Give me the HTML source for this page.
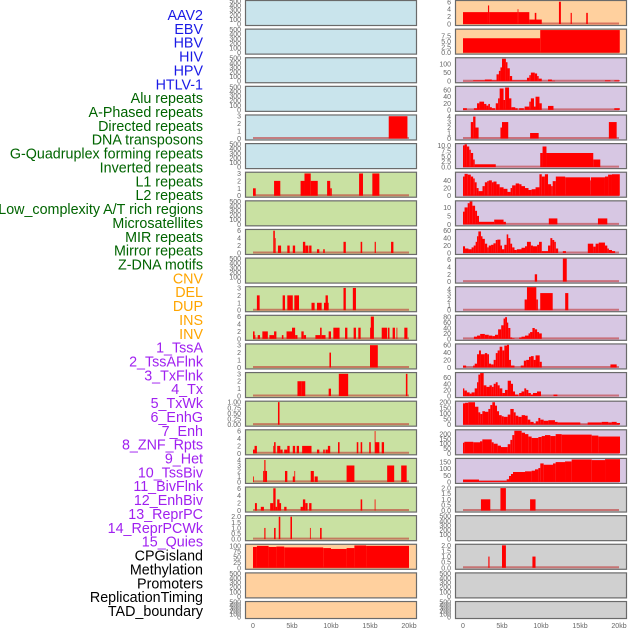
<!DOCTYPE html>
<html><head><meta charset="utf-8">
<style>
html,body{margin:0;padding:0;background:#fff;width:630px;height:630px;overflow:hidden}
svg{display:block}
.lbl{font-family:"Liberation Sans",sans-serif;font-size:14.3px}
.tk{font-family:"Liberation Sans",sans-serif;font-size:7px;fill:#666}
</style></head>
<body>
<svg id="chart" width="630" height="630" xmlns="http://www.w3.org/2000/svg"></svg>
<script>
const trackNames=["AAV2","EBV","HBV","HIV","HPV","HTLV-1","Alu repeats","A-Phased repeats","Directed repeats","DNA transposons","G-Quadruplex forming repeats","Inverted repeats","L1 repeats","L2 repeats","Low_complexity A/T rich regions","Microsatellites","MIR repeats","Mirror repeats","Z-DNA motifs","CNV","DEL","DUP","INS","INV","1_TssA","2_TssAFlnk","3_TxFlnk","4_Tx","5_TxWk","6_EnhG","7_Enh","8_ZNF_Rpts","9_Het","10_TssBiv","11_BivFlnk","12_EnhBiv","13_ReprPC","14_ReprPCWk","15_Quies","CPGisland","Methylation","Promoters","ReplicationTiming","TAD_boundary"];
const labelColors=["#1a1ae6","#1a1ae6","#1a1ae6","#1a1ae6","#1a1ae6","#1a1ae6","#006400","#006400","#006400","#006400","#006400","#006400","#006400","#006400","#006400","#006400","#006400","#006400","#006400","#ffa500","#ffa500","#ffa500","#ffa500","#ffa500","#a020f0","#a020f0","#a020f0","#a020f0","#a020f0","#a020f0","#a020f0","#a020f0","#a020f0","#a020f0","#a020f0","#a020f0","#a020f0","#a020f0","#a020f0","#000","#000","#000","#000","#000"];
const E=[0,100,200,300,400,500];
const trackMax=[500,500,500,500,3.1,500,3.1,500,6.2,500,3.1,6.2,3.1,3.1,1.02,6.2,4.2,6.2,2.05,105,500,500,6.2,10.4,133,70,4.2,10.6,60,13.6,62,6.3,4.3,85,61,75,205,240,174,2.05,500,2.05,500,500];
const trackTicks=[E,E,E,E,[0,1,2,3],E,[0,1,2,3],E,[0,2,4,6],E,[0,1,2,3],[0,2,4,6],[0,1,2,3],[0,1,2,3],[0,0.25,0.5,0.75,1],[0,2,4,6],[0,1,2,3,4],[0,2,4,6],[0,0.5,1,1.5,2],[0,25,50,75,100],E,E,
[0,2,4,6],[0,2.5,5,7.5],[0,50,100],[0,20,40,60],[0,1,2,3,4],[0,2.5,5,7.5,10],[0,20,40],[0,5,10],[0,20,40,60],[0,2,4,6],[0,1,2,3,4],[0,20,40,60,80],[0,20,40,60],[0,20,40,60],[0,50,100,150,200],[0,50,100,150,200],[0,50,100,150],[0,0.5,1,1.5,2],E,[0,0.5,1,1.5,2],E,E];
const tickDecimals=[0,0,0,0,0,0,0,0,0,0,0,0,0,0,2,0,0,0,1,0,0,0,0,1,0,0,0,1,0,0,0,0,0,0,0,0,0,0,0,1,0,1,0,0];
const xTicks=[0,5,10,15,20];
const xTickLabels=["0","5kb","10kb","15kb","20kb"];
const trackSegs=[
[],[],[],[],
[[17.4,19.8,3]],
[],
[[0,0.35,1],[2.7,3.5,2],[6.1,6.6,2],[6.6,7.4,3],[7.4,8.3,2],[9.5,9.9,2],[9.9,10.1,1],[13.6,14.1,3],[15.3,16.2,3]],
[],
[[2.6,2.8,6],[2.8,2.9,4],[3.2,3.6,2],[4.4,4.7,2],[5.1,5.4,2],[6.4,6.7,3],[6.7,7.1,2],[7.2,7.5,2],[8.2,8.5,1],[9.0,9.2,1],[11.6,11.9,3],[13.8,14.0,3],[15.6,15.75,3],[17.7,18.0,3]],
[],
[[0.5,0.85,2],[3.8,4.1,2],[4.4,5.1,2],[5.3,5.9,2],[7.5,7.9,1],[8.2,8.8,1],[9.1,9.7,1],[9.3,9.6,2],[11.6,11.9,3],[12.8,13.2,3]],
[[0,0.2,2],[0.2,0.3,1],[0.6,0.9,1],[1.2,1.9,2],[2.1,2.7,1],[2.7,3.0,2],[3.7,3.9,1],[4.3,5.0,2],[5.0,5.4,3],[5.4,5.7,1],[6.2,6.5,2],[6.5,6.8,1],[8.0,8.6,1],[8.6,8.8,3],[8.8,9.3,1],[9.7,10.0,2],[10.3,11.1,3],[11.8,12.1,3],[12.9,13.2,3],[13.5,13.8,3],[15.0,15.1,3],[15.1,15.5,6],[16.5,17.2,3],[17.3,17.5,3],[17.9,18.2,3],[18.4,18.5,3],[19.4,19.8,3]],
[[9.8,10.0,2],[15.0,16.0,3]],
[[5.7,6.2,2],[6.2,6.7,2],[9.7,10.0,1],[11.0,12.2,3],[19.6,19.8,3]],
[[3.2,3.4,1]],
[[0,0.2,1],[0.2,0.5,2],[2.6,2.7,2],[2.7,2.9,3],[3.1,3.5,2],[3.5,3.8,1],[4.0,4.4,1],[4.4,4.7,2],[5.1,5.4,2],[5.6,5.9,2],[6.3,7.5,2],[8.2,8.5,1],[9.0,9.2,1],[9.3,9.6,1],[9.6,9.9,2],[10.9,11.1,3],[13.3,13.5,3],[13.8,14.0,3],[14.9,15.1,3],[15.6,15.7,6],[15.7,16.2,3],[16.5,16.8,3]],
[[0,0.1,1],[1.3,1.45,2],[1.45,1.6,4],[1.6,1.8,2],[4.1,4.4,2],[5.1,5.3,1],[5.3,5.4,2],[7.4,7.8,2],[7.9,8.3,1],[12.0,13.0,3],[17.2,18.1,3],[19.0,19.7,3]],
[[0.25,0.5,2],[1.0,1.4,1],[2.2,2.6,2],[2.6,2.9,6],[2.9,3.1,1],[3.1,3.4,3],[3.4,3.6,2],[4.0,4.3,1],[6.1,6.4,1],[6.4,6.7,3],[6.7,7.0,2],[7.2,7.5,2],[13.8,14.0,3],[15.6,15.7,3]],
[[1.45,1.6,1],[2.7,2.9,1],[3.3,3.5,2],[4.8,5.0,2],[7.3,7.4,1],[8.6,8.8,1]],
[[0,0.5,95],[0.5,2,100],[2,3,95],[3,4,97],[4,9,93],[9,10,90],[10,12,86],[12,13,90],[13,14.5,102],[14.5,20,100]],
[],[],
[[0,3.2,3.2],[3.2,3.35,5],[3.35,7.0,3.2],[7.0,7.1,4],[7.1,8.5,3.2],[8.5,10.1,1.2],[9.2,9.4,3],[12.3,12.55,6],[13.8,13.95,3],[15.8,16.0,3]],
[[0,9.9,6.5],[9.9,20.1,10.2]],
[[0,1.3,1],[1.3,2.8,5],[2.8,3.7,10],[3.7,4.3,5],[4.3,4.6,40],[4.6,4.8,60],[4.8,5.0,80],[5.0,5.5,130],[5.5,5.7,110],[5.7,6.0,75],[6.0,6.3,30],[6.3,8.2,5],[8.2,8.5,20],[8.5,8.7,35],[8.7,9.2,50],[9.2,9.5,45],[9.5,9.7,30],[9.7,10.1,15],[10.9,11.4,10],[11.4,11.8,3],[18.2,18.9,5],[19.4,20.1,5]],
[[0,0.5,5],[1.4,1.8,5],[1.8,2.1,20],[2.1,2.7,25],[2.7,3.0,18],[3.0,3.25,13],[3.25,3.45,18],[3.45,3.7,8],[3.7,4.1,5],[4.2,4.5,20],[4.5,4.7,35],[4.7,5.2,65],[5.2,5.4,30],[5.4,5.9,68],[5.9,6.2,35],[6.2,6.7,8],[6.7,7.0,5],[7.2,7.8,5],[7.9,8.5,10],[8.5,8.7,25],[8.7,9.1,35],[9.1,9.3,10],[9.3,9.8,40],[9.8,10.1,20],[10.9,11.6,12],[19.4,20.1,5]],
[[1.0,1.3,3],[1.3,1.6,4],[1.6,2.0,2],[4.8,5.0,2],[5.0,5.8,3],[8.6,9.7,1],[18.7,19.7,3]],
[[0,0.2,10],[0.2,0.5,10.5],[0.5,0.8,9.5],[0.8,1.0,8],[1.0,1.3,6.5],[1.3,1.5,3.5],[1.5,4.2,1.3],[9.9,10.2,6.5],[10.2,10.7,9.5],[10.7,16.7,6.5],[16.7,17.6,3.5]],
[[0,0.2,50],[0.2,0.6,57],[0.6,1.0,55],[1.0,1.3,50],[1.3,1.5,45],[1.5,1.75,35],[1.75,2.0,20],[2.0,2.5,12],[2.5,2.8,25],[2.8,3.1,35],[3.1,3.3,38],[3.3,3.7,40],[3.7,3.9,35],[3.9,4.3,37],[4.3,4.7,30],[4.7,5.2,22],[5.2,5.7,18],[5.7,6.1,10],[6.1,6.3,20],[6.3,6.75,27],[6.75,7.2,32],[7.2,7.5,30],[7.5,7.95,25],[7.95,8.4,20],[8.4,8.8,15],[8.8,9.3,17],[9.3,9.8,22],[9.8,10.1,56],[10.1,10.5,50],[10.5,10.9,56],[10.9,11.3,30],[11.3,11.5,25],[11.5,11.9,38],[11.9,13.1,50],[13.1,16.3,48],[16.3,16.4,40],[16.4,18.2,48],[18.2,18.6,50],[18.6,19.1,55],[19.1,20.1,56]],
[[0,0.2,7.5],[0.2,0.6,10],[0.6,0.85,12.5],[0.85,1.2,13.5],[1.2,1.55,11],[1.55,1.8,8],[1.8,2.05,5],[2.05,4.0,1.5],[4.0,5.2,2.8],[5.2,5.5,1.5],[11.0,12.1,3.5],[17.3,18.5,3.5]],
[[0,0.26,18],[0.26,0.7,12],[0.7,1.1,10],[1.1,1.37,15],[1.37,1.62,20],[1.62,1.8,30],[1.8,1.97,45],[1.97,2.3,58],[2.3,2.5,45],[2.5,2.8,38],[2.8,3.1,25],[3.1,3.3,15],[3.3,3.6,20],[3.6,3.9,22],[3.9,4.2,26],[4.2,4.4,35],[4.4,4.8,36],[4.8,5.0,20],[5.0,5.3,10],[5.3,5.6,22],[5.6,5.8,50],[5.8,6.07,40],[6.07,6.3,25],[6.3,6.6,15],[6.6,6.9,8],[6.9,7.5,10],[7.5,7.95,14],[7.95,8.2,18],[8.2,8.7,30],[8.7,8.97,20],[8.97,9.5,18],[9.5,9.75,22],[9.75,10.1,30],[10.1,10.9,5],[10.9,11.2,20],[11.2,11.45,40],[11.45,11.7,35],[11.7,11.9,30],[11.9,12.2,12],[12.8,13.2,5],[16.0,16.7,25],[16.7,17.0,17],[17.0,17.4,25],[17.4,18.2,28],[18.2,18.5,20],[18.5,18.7,12],[18.7,19.1,8],[19.1,19.5,5]],
[[9.2,9.5,2],[12.8,13.3,6.3]],
[[7.9,8.2,2],[8.2,9.4,4.3],[9.4,9.6,2],[9.9,11.5,3.2],[13.1,13.5,3.2]],
[[1.4,1.8,8],[1.8,2.2,12],[2.2,2.8,18],[2.8,3.3,15],[3.3,3.76,12],[3.76,4.1,10],[4.1,4.5,15],[4.5,4.9,35],[4.9,5.2,50],[5.2,5.4,75],[5.4,5.64,80],[5.64,5.8,60],[5.8,6.07,40],[6.07,6.3,5],[6.3,6.6,2],[7.2,7.5,5],[7.5,7.95,8],[7.95,8.4,12],[8.4,8.6,20],[8.6,8.9,25],[8.9,9.2,40],[9.2,9.5,35],[9.5,9.75,25],[9.75,10.1,20]],
[[0,0.4,5],[1.3,1.5,5],[1.5,1.8,10],[1.8,2.05,35],[2.05,2.3,45],[2.3,2.8,35],[2.8,3.1,38],[3.1,3.33,35],[3.33,3.6,10],[3.6,3.93,8],[3.93,4.2,20],[4.2,4.44,38],[4.44,4.7,45],[4.7,5.04,55],[5.04,5.3,45],[5.3,5.64,58],[5.64,5.9,60],[5.9,6.15,20],[6.15,6.6,5],[7.4,7.8,5],[7.8,8.1,18],[8.1,8.46,20],[8.46,8.7,28],[8.7,9.06,30],[9.06,9.3,20],[9.3,9.83,32],[9.83,10.1,15],[18.9,19.7,8]],
[[0,0.17,25],[0.17,0.5,18],[0.5,0.85,12],[0.85,1.1,8],[1.1,1.5,12],[1.5,1.8,25],[1.8,1.97,45],[1.97,2.2,70],[2.2,2.65,75],[2.65,3.0,35],[3.0,3.4,30],[3.4,3.7,35],[3.7,3.93,30],[3.93,4.2,40],[4.2,4.44,45],[4.44,4.7,35],[4.7,5.04,25],[5.04,5.38,10],[5.38,5.73,20],[5.73,6.15,50],[6.15,6.41,40],[6.41,6.67,15],[6.67,7.1,5],[7.2,7.5,10],[7.5,7.86,15],[7.86,8.1,25],[8.1,8.38,20],[8.38,8.7,10],[8.7,8.97,5],[8.97,9.49,10],[9.49,10.0,15],[11.6,12.1,5]],
[[0,0.26,190],[0.26,0.68,195],[0.68,1.54,200],[1.54,1.97,160],[1.97,2.22,110],[2.22,2.48,95],[2.48,2.82,120],[2.82,3.25,115],[3.25,3.5,140],[3.5,3.76,175],[3.76,4.1,200],[4.1,4.36,170],[4.36,4.62,120],[4.62,4.96,85],[4.96,5.21,75],[5.21,5.73,70],[5.73,6.07,90],[6.07,6.5,140],[6.5,6.75,110],[6.75,7.09,80],[7.09,7.52,70],[7.52,7.95,85],[7.95,8.29,80],[8.29,8.63,45],[8.63,9.06,25],[9.06,9.32,10],[9.32,9.66,30],[9.66,9.91,60],[9.91,10.34,45],[10.34,10.94,35],[10.94,11.79,40],[11.79,12.14,25],[12.14,15.04,20],[15.04,15.98,2],[15.98,17.78,20],[17.78,18.63,25],[18.63,19.06,20],[19.06,19.7,25],[19.7,20.13,15]],
[[0,0.17,110],[0.17,1.32,120],[1.32,2.18,115],[2.18,2.48,125],[2.48,3.68,145],[3.68,3.93,115],[3.93,4.44,100],[4.44,4.87,80],[4.87,5.73,65],[5.73,6.07,95],[6.07,6.32,140],[6.32,6.58,190],[6.58,7.52,235],[7.52,7.95,215],[7.95,8.38,200],[8.38,8.8,175],[8.8,9.66,160],[9.66,10.09,170],[10.09,10.51,180],[10.51,11.2,190],[11.2,11.88,180],[11.88,12.65,200],[12.65,16.5,195],[16.5,17.35,185],[17.35,20.13,175]],
[[0,2.05,18],[2.05,5.6,8],[5.6,5.9,20],[5.9,6.15,45],[6.15,6.41,60],[6.41,7.95,75],[7.95,8.8,80],[8.8,9.23,85],[9.23,9.66,95],[9.66,9.91,105],[9.91,10.34,140],[10.34,11.54,130],[11.54,11.88,140],[11.88,13.08,150],[13.08,13.93,155],[13.93,16.5,170],[16.5,18.21,165],[18.21,20.13,172]],
[[2.3,3.5,1],[4.8,5.5,2],[8.6,9.3,1]],
[],
[[3.25,3.4,1],[5.0,5.5,2],[8.9,9.3,1]],
[],[]
];
const trackFill=["#c9e4ec","#c9e4ec","#c9e4ec","#c9e4ec","#c9e4ec","#c9e4ec","#c9e1a2","#c9e1a2","#c9e1a2","#c9e1a2","#c9e1a2","#c9e1a2","#c9e1a2","#c9e1a2","#c9e1a2","#c9e1a2","#c9e1a2","#c9e1a2","#c9e1a2","#ffd09e","#ffd09e","#ffd09e","#ffd09e","#ffd09e","#d7c7e3","#d7c7e3","#d7c7e3","#d7c7e3","#d7c7e3","#d7c7e3","#d7c7e3","#d7c7e3","#d7c7e3","#d7c7e3","#d7c7e3","#d7c7e3","#d7c7e3","#d7c7e3","#d7c7e3","#d0d0d0","#d0d0d0","#d0d0d0","#d0d0d0","#d0d0d0"];

const NS="http://www.w3.org/2000/svg";
const svg=document.getElementById('chart');
function mk(tag,attrs,parent){const e=document.createElementNS(NS,tag);for(const k in attrs)e.setAttribute(k,attrs[k]);(parent||svg).appendChild(e);return e;}
const colX=[245,455], panelW=171, zeroOff=8, pxPerKb=7.8;
function xScale(col,kb){return colX[col]+zeroOff+kb*pxPerKb;}
function rowTop(r){return r*28.62;}
function rowH(r){return r===21?17:25;}
function yScale(i,v){const r=i%22;const top=rowTop(r)+1,bot=rowTop(r)+rowH(r)-1;return bot-(v/trackMax[i])*(bot-top);}

trackNames.forEach((n,i)=>{
  const t=mk('text',{x:203,y:15+i*13.86+5,'text-anchor':'end',fill:labelColors[i],class:'lbl'});
  
  
  t.textContent=n;
});

for(let i=0;i<44;i++){
  const col=Math.floor(i/22), r=i%22;
  const g=mk('g',{});
  
  
  const rect=mk('rect',{x:colX[col]+0.5,y:rowTop(r)+0.5,width:panelW,height:rowH(r),fill:trackFill[i],stroke:'#6a6a6a','stroke-width':1.2},g);
  
  
  const segs=trackSegs[i];
  if(segs.length){
    const base=mk('line',{x1:xScale(col,0),x2:xScale(col,20),y1:yScale(i,0)-0.5,y2:yScale(i,0)-0.5,stroke:'rgba(190,40,40,0.55)','stroke-width':2},g);
    
    
  }
  segs.forEach(s=>{
    const x0=xScale(col,s[0]),x1=xScale(col,s[1]),y=yScale(i,s[2]),y0=yScale(i,0);
    const b=mk('rect',{x:x0,y:y,width:Math.max(0.8,x1-x0),height:Math.max(0,y0-y),fill:'#ff0000'},g);
    
    
  });
  trackTicks[i].forEach(tv=>{
    const t=mk('text',{x:colX[col]-4,y:yScale(i,tv)+2.5,'text-anchor':'end',class:'tk'},g);
    
    
    t.textContent=tv.toFixed(tickDecimals[i]);
  });
}
for(let col=0;col<2;col++){
  xTicks.forEach((v,k)=>{
    const t=mk('text',{x:xScale(col,v),y:628,'text-anchor':'middle',class:'tk'});
    
    
    t.textContent=xTickLabels[k];
  });
}
</script>
</body></html>
